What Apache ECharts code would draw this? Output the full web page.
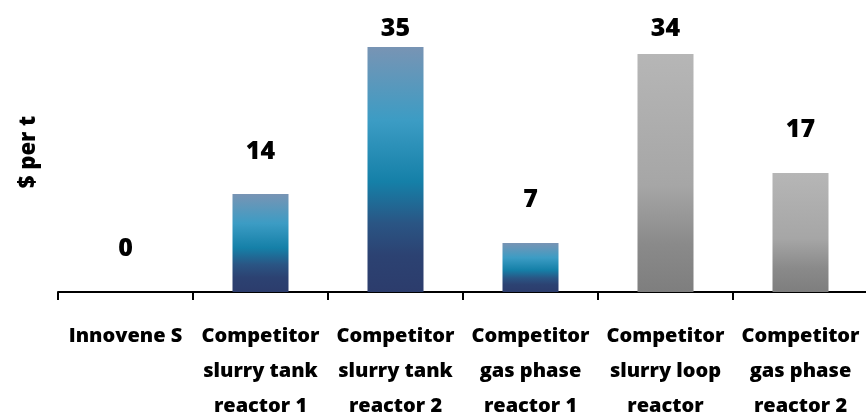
<!DOCTYPE html>
<html>
<head>
<meta charset="utf-8">
<script src="https://cdn.jsdelivr.net/npm/echarts@6/dist/echarts.min.js"></script>
<style>
  html, body { margin: 0; padding: 0; background: #fff; }
  #main { width: 866px; height: 417px; }
</style>
</head>
<body>
<div id="main"></div>
<script>
    // data
    var categories = [
        'Innovene S',
        'Competitor\nslurry tank\nreactor 1',
        'Competitor\nslurry tank\nreactor 2',
        'Competitor\ngas phase\nreactor 1',
        'Competitor\nslurry loop\nreactor',
        'Competitor\ngas phase\nreactor 2'
    ];
    var values = [0, 14, 35, 7, 34, 17];
    var barKind = ['blue', 'blue', 'blue', 'blue', 'grey', 'grey'];
    var labelGap = [31, 30, 6, 31, 13, 31];

    var blueFill = new echarts.graphic.LinearGradient(0, 0, 0, 1, [
        { offset: 0, color: '#7894b4' },
        { offset: 0.3, color: '#3c9cc4' },
        { offset: 0.55, color: '#1580a8' },
        { offset: 0.72, color: '#2a5584' },
        { offset: 0.85, color: '#2c4272' },
        { offset: 1, color: '#2c3c6c' }
    ]);
    var greyFill = new echarts.graphic.LinearGradient(0, 0, 0, 1, [
        { offset: 0, color: '#b6b6b6' },
        { offset: 0.55, color: '#a6a6a6' },
        { offset: 0.8, color: '#8a8a8a' },
        { offset: 1, color: '#7e7e7e' }
    ]);

    var fontFam = 'Open Sans';

    var barData = values.map(function (v, i) {
        return {
            value: v,
            itemStyle: { color: barKind[i] === 'blue' ? blueFill : greyFill },
            label: { distance: labelGap[i] }
        };
    });

    var option = {
        animation: false,
        grid: { left: 58, width: 810, top: 12, height: 280, containLabel: false, outerBoundsMode: 'none' },
        xAxis: {
            type: 'category',
            data: categories,
            axisLine: { lineStyle: { color: '#000', width: 2 } },
            axisTick: { show: true, length: 8, lineStyle: { color: '#000', width: 2 } },
            axisLabel: {
                interval: 0,
                margin: 27,
                color: '#000',
                fontFamily: fontFam,
                fontWeight: 800,
                fontSize: 20,
                lineHeight: 35
            }
        },
        yAxis: {
            type: 'value',
            min: 0,
            max: 40,
            name: '$ per t',
            nameLocation: 'middle',
            nameGap: 18,
            nameRotate: 90,
            nameTextStyle: {
                color: '#000',
                fontFamily: fontFam,
                fontWeight: 800,
                fontSize: 22
            },
            axisLine: { show: false },
            axisTick: { show: false },
            axisLabel: { show: false },
            splitLine: { show: false }
        },
        series: [{
            type: 'bar',
            data: barData,
            barWidth: 56,
            label: {
                show: true,
                position: 'top',
                color: '#000',
                fontFamily: fontFam,
                fontWeight: 800,
                fontSize: 25
            }
        }]
    };

    var myChart = echarts.init(document.getElementById('main'));
    myChart.setOption(option);
</script>
</body>
</html>
